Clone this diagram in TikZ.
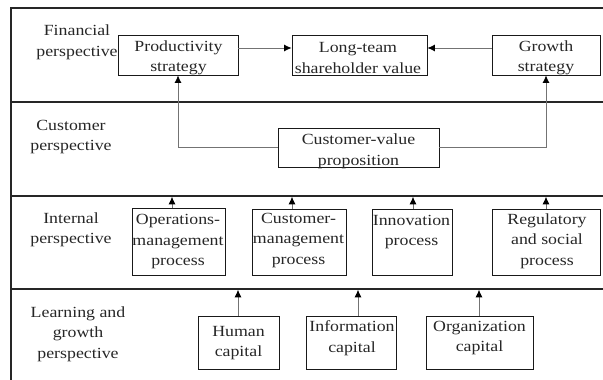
\documentclass[tikz,border=0pt]{standalone}
\usepackage{fontspec}
\setmainfont{Liberation Serif}[FakeStretch=1.15]
\usetikzlibrary{arrows.meta}
\begin{document}
\begin{tikzpicture}[x=1pt,y=-1pt,
  frame/.style={line width=1.3pt, draw=black!85},
  box/.style={draw=black!90, line width=0.9pt, inner sep=0pt},
  txt/.style={align=center, inner sep=0pt, font=\fontsize{15.5}{20.5}\selectfont, text=black!85},
  arr/.style={draw=black!55, line width=0.8pt, -{Latex[length=7.5pt,width=7pt,color=black]}}]
\useasboundingbox (0,0) rectangle (603,380);
% frame and row separators
\draw[frame] (11,380) -- (11,8) -- (603,8);
\draw[frame] (11,102) -- (603,102);
\draw[frame] (11,196) -- (603,196);
\draw[frame] (11,289) -- (603,289);
% row labels
\node[txt] (fin) at (77,42.5) {Financial\\perspective};
\node[txt] (cus) at (71,137) {Customer\\perspective};
\node[txt] (int) at (71,230) {Internal\\perspective};
\node[txt] (lrn) at (78,334) {Learning and\\growth\\perspective};
% financial row
\node[box, minimum width=120pt, minimum height=39.5pt] (prod) at (178,55.25) {};
\node[txt] (prodt) at (178.5,58) {Productivity\\strategy};
\node[box, minimum width=135pt, minimum height=39.5pt] (long) at (359.5,55.25) {};
\node[txt] (longt) at (358,58) {Long-team\\shareholder value};
\node[box, minimum width=108pt, minimum height=39.5pt] (growth) at (546,55.25) {};
\node[txt] (growtht) at (546,58) {Growth\\strategy};
% customer row
\node[box, minimum width=161pt, minimum height=39pt] (cvp) at (358.5,147.5) {};
\node[txt] (cvpt) at (358.5,151.5) {Customer-value\\proposition};
% internal row
\node[box, minimum width=93pt, minimum height=67pt] (ops) at (178.5,241.5) {};
\node[txt] (opst) at (178,242) {Operations-\\management\\process};
\node[box, minimum width=94pt, minimum height=66pt] (cust) at (299,242) {};
\node[txt] (custt) at (298.5,240.5) {Customer-\\management\\process};
\node[box, minimum width=80pt, minimum height=66pt] (innov) at (412,242) {};
\node[txt] (innovt) at (411.5,232) {Innovation\\process};
\node[box, minimum width=108pt, minimum height=66pt] (reg) at (546,242) {};
\node[txt] (regt) at (547,241) {Regulatory\\and social\\process};
% learning row
\node[box, minimum width=81pt, minimum height=53pt] (human) at (238.5,342.5) {};
\node[txt] (humant) at (238.5,343) {Human\\capital};
\node[box, minimum width=90pt, minimum height=53pt] (info) at (351,342.5) {};
\node[txt] (infot) at (352,338) {Information\\capital};
\node[box, minimum width=107pt, minimum height=53pt] (org) at (479.5,342.5) {};
\node[txt] (orgt) at (479.5,338) {Organization\\capital};
% arrow end points on the separators
\coordinate (sops) at (172,196.8);
\coordinate (scust) at (292,196.8);
\coordinate (sinnov) at (413,196.8);
\coordinate (sreg) at (546,196.8);
\coordinate (shuman) at (238,289.8);
\coordinate (sinfo) at (358,289.8);
\coordinate (sorg) at (479,289.8);
% connectors
\draw[arr] ([yshift=7.25pt]prod.east) -- ([yshift=7.25pt]long.west);
\draw[arr] ([yshift=7.25pt]growth.west) -- ([yshift=7.25pt]long.east);
\draw[arr] (cvp.west) -| (prod.south);
\draw[arr] (cvp.east) -| (growth.south);
\draw[arr] (ops.north -| sops) -- (sops);
\draw[arr] (cust.north -| scust) -- (scust);
\draw[arr] (innov.north -| sinnov) -- (sinnov);
\draw[arr] (reg.north -| sreg) -- (sreg);
\draw[arr] (human.north -| shuman) -- (shuman);
\draw[arr] (info.north -| sinfo) -- (sinfo);
\draw[arr] (org.north -| sorg) -- (sorg);
\end{tikzpicture}
\end{document}
